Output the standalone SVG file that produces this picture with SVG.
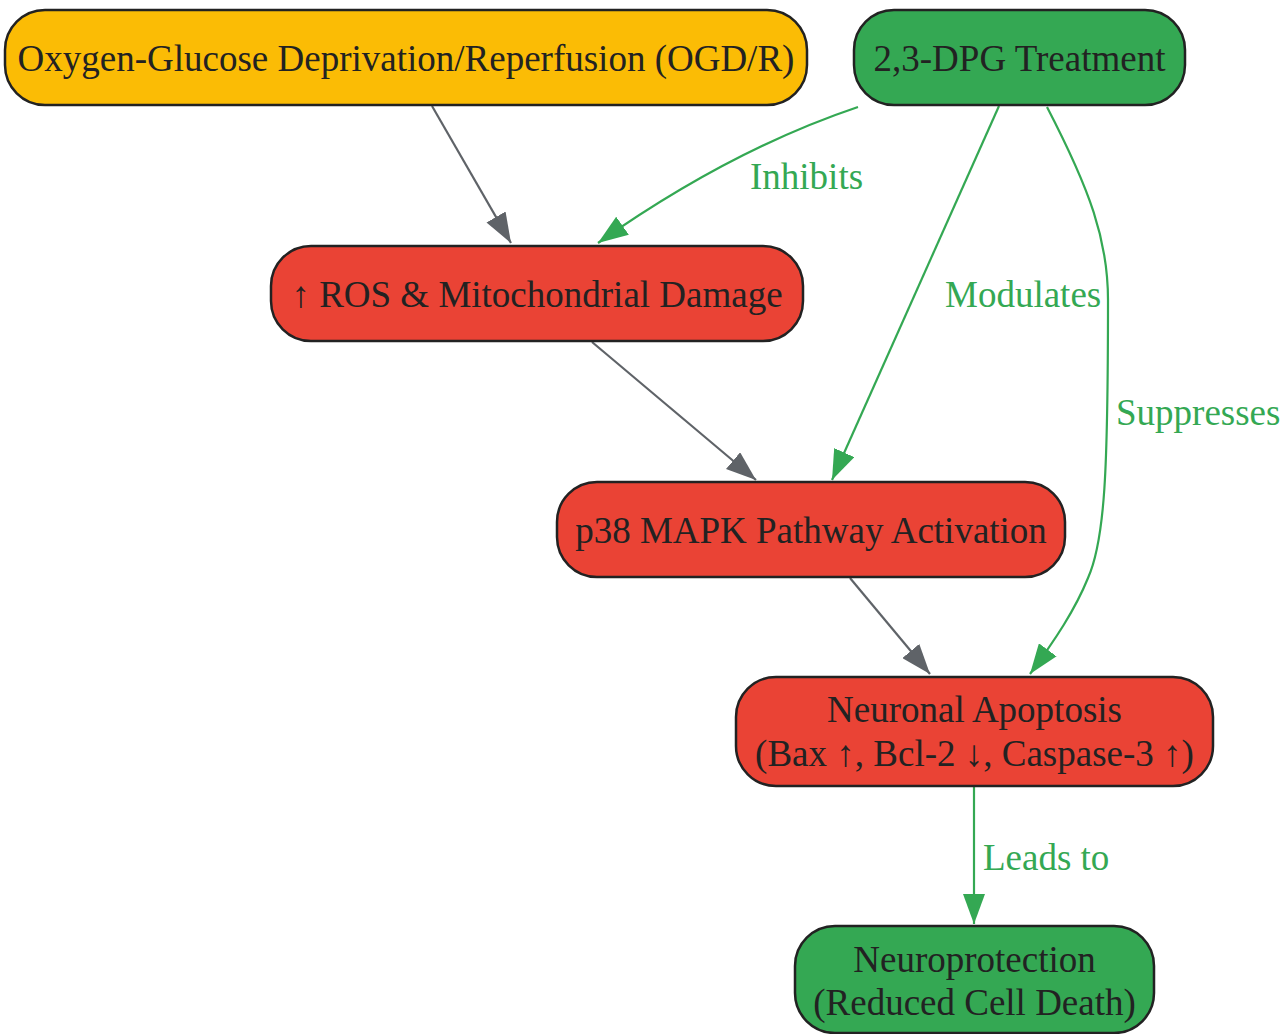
<svg xmlns="http://www.w3.org/2000/svg" width="1288" height="1034" viewBox="0 0 1288 1034">
<style>
.node rect{stroke:#222;stroke-width:2.5}
.y{fill:#FBBC05}.g{fill:#34A853}.r{fill:#EA4335}
.node text{font-family:"Liberation Serif","Times New Roman",serif;font-size:37px;fill:#222;text-anchor:middle}
.e{fill:none;stroke-width:2.2}
.gray{stroke:#5F6368}.grn{stroke:#34A853}
.lbl{font-family:"Liberation Serif","Times New Roman",serif;font-size:37px;fill:#34A853}
</style>
<defs>
<marker id="ag" markerUnits="userSpaceOnUse" markerWidth="30" markerHeight="22" refX="30" refY="11" orient="auto"><path d="M0,0 L30,11 L0,22 z" fill="#5F6368"/></marker>
<marker id="ar" markerUnits="userSpaceOnUse" markerWidth="30" markerHeight="22" refX="30" refY="11" orient="auto"><path d="M0,0 L30,11 L0,22 z" fill="#34A853"/></marker>
</defs>
<rect width="1288" height="1034" fill="#fff"/>
<g id="edges">
<path class="e gray" d="M432,106 L511,243" marker-end="url(#ag)"/>
<path class="e grn" d="M858,107 Q730,150 598,243" marker-end="url(#ar)"/>
<path class="e grn" d="M999,106 L832,480" marker-end="url(#ar)"/>
<path class="e grn" d="M1047,107 C1090,190 1108,240 1108,300 C1108,470 1105,540 1088,578 C1075,610 1055,640 1030,674" marker-end="url(#ar)"/>
<path class="e gray" d="M592,342 L756,480" marker-end="url(#ag)"/>
<path class="e gray" d="M850,578 L930,674" marker-end="url(#ag)"/>
<path class="e grn" d="M974,786 L974,924" marker-end="url(#ar)"/>
<text class="lbl" x="750" y="189">Inhibits</text>
<text class="lbl" x="945" y="307">Modulates</text>
<text class="lbl" x="1116" y="425">Suppresses</text>
<text class="lbl" x="983" y="870">Leads to</text>
</g>
<g id="ogd" class="node"><rect class="y" x="5" y="10" width="802" height="95" rx="40"/><text x="406" y="71">Oxygen-Glucose Deprivation/Reperfusion (OGD/R)</text></g>
<g id="dpg" class="node"><rect class="g" x="854" y="10" width="331" height="95" rx="40"/><text x="1019.5" y="71">2,3-DPG Treatment</text></g>
<g id="ros" class="node"><rect class="r" x="271" y="246" width="532" height="95" rx="40"/><text x="537" y="307">↑ ROS &amp; Mitochondrial Damage</text></g>
<g id="p38" class="node"><rect class="r" x="557" y="482" width="508" height="95" rx="40"/><text x="811" y="543">p38 MAPK Pathway Activation</text></g>
<g id="apop" class="node"><rect class="r" x="736" y="677" width="477" height="109" rx="40"/><text x="974.5" y="722">Neuronal Apoptosis</text><text x="974.5" y="766">(Bax ↑, Bcl-2 ↓, Caspase-3 ↑)</text></g>
<g id="neuro" class="node"><rect class="g" x="795" y="926" width="359" height="107" rx="40"/><text x="974.5" y="972">Neuroprotection</text><text x="974.5" y="1015">(Reduced Cell Death)</text></g>
</svg>
